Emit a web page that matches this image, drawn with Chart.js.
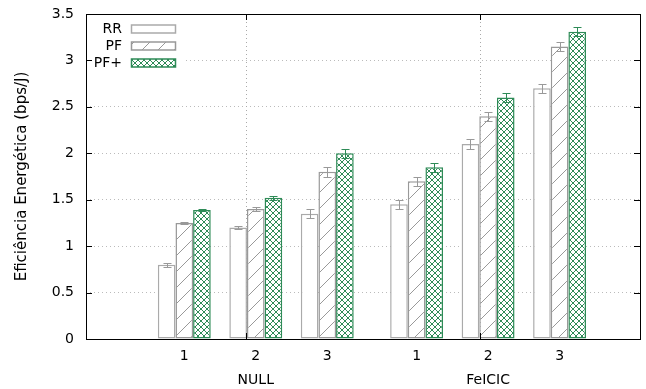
<!DOCTYPE html>
<html>
<head>
<meta charset="utf-8">
<script src="https://cdn.jsdelivr.net/npm/chart.js@4/dist/chart.umd.min.js"></script>
<style>
  html, body { margin: 0; background: #fff; }
</style>
</head>
<body>
<canvas id="chart" width="646" height="389"></canvas>
<script>
// data
const positions = [0, 1, 2, 3.25, 4.25, 5.25];
const tickLabels = ["1", "2", "3", "1", "2", "3"];
const groupLabels = ["", "NULL", "", "", "FeICIC", ""];
const seriesNames = ["RR", "PF", "PF+"];
const rrValues = [0.80, 1.20, 1.35, 1.45, 2.10, 2.70];
const pfValues = [1.25, 1.40, 1.80, 1.70, 2.40, 3.15];
const pfPlusValues = [1.39, 1.52, 2.00, 1.85, 2.60, 3.31];
const rrErrors = [0.02, 0.02, 0.05, 0.05, 0.05, 0.05];
const pfErrors = [0.015, 0.02, 0.05, 0.05, 0.05, 0.05];
const pfPlusErrors = [0.015, 0.02, 0.05, 0.05, 0.05, 0.05];

const GREEN = "#2e8b57";
const FONT = "'DejaVu Sans', sans-serif";

function hatchPattern(color) {
  const c = document.createElement("canvas");
  c.width = 16; c.height = 16;
  const g = c.getContext("2d");
  g.fillStyle = "#fff";
  g.fillRect(0, 0, 16, 16);
  g.strokeStyle = color;
  g.lineWidth = 1;
  g.beginPath();
  g.moveTo(-1, 17); g.lineTo(17, -1);
  g.stroke();
  return g.createPattern(c, "repeat");
}

function crossPattern(color) {
  const c = document.createElement("canvas");
  c.width = 6; c.height = 6;
  const g = c.getContext("2d");
  g.fillStyle = "#fff";
  g.fillRect(0, 0, 6, 6);
  g.strokeStyle = color;
  g.lineWidth = 1;
  g.beginPath();
  g.moveTo(0, 0); g.lineTo(6, 6);
  g.moveTo(6, 0); g.lineTo(0, 6);
  g.stroke();
  return g.createPattern(c, "repeat");
}

function points(values) {
  return values.map((v, i) => ({ x: positions[i], y: v }));
}

const datasets = [
  { label: seriesNames[0], data: points(rrValues), errors: rrErrors,
    backgroundColor: "#fff", borderColor: "#aaaaaa", errColor: "#999" },
  { label: seriesNames[1], data: points(pfValues), errors: pfErrors,
    backgroundColor: hatchPattern("#999"), borderColor: "#999999", errColor: "#999" },
  { label: seriesNames[2], data: points(pfPlusValues), errors: pfPlusErrors,
    backgroundColor: crossPattern(GREEN), borderColor: GREEN, errColor: GREEN },
].map(d => Object.assign(d, {
  borderWidth: 1.5,
  borderSkipped: false,
  categoryPercentage: 0.74,
  barPercentage: 1.0,
}));

// error bars, frame, inward ticks and in-plot legend
const decorations = {
  id: "decorations",
  afterDatasetsDraw(chart) {
    const ctx = chart.ctx;
    const y = chart.scales.y;
    const x = chart.scales.x;
    const area = chart.chartArea;
    ctx.save();

    chart.data.datasets.forEach((ds, i) => {
      const meta = chart.getDatasetMeta(i);
      ctx.strokeStyle = ds.errColor;
      ctx.lineWidth = 1;
      meta.data.forEach((bar, j) => {
        const v = ds.data[j].y, e = ds.errors[j];
        const top = Math.round(y.getPixelForValue(v + e)) + 0.5;
        const bot = Math.round(y.getPixelForValue(v - e)) + 0.5;
        const cx = Math.round(bar.x) + 0.5;
        ctx.beginPath();
        ctx.moveTo(cx, top); ctx.lineTo(cx, bot);
        ctx.moveTo(cx - 4, top); ctx.lineTo(cx + 4, top);
        ctx.moveTo(cx - 4, bot); ctx.lineTo(cx + 4, bot);
        ctx.stroke();
      });
    });

    // vertical grid lines
    ctx.strokeStyle = "#aaa";
    ctx.setLineDash([1, 3]);
    [0.87, 4.13].forEach(v => {
      const px = Math.round(x.getPixelForValue(v)) + 0.5;
      ctx.beginPath();
      ctx.moveTo(px, area.top); ctx.lineTo(px, area.bottom);
      ctx.stroke();
    });
    ctx.setLineDash([]);

    // legend
    ctx.fillStyle = "#fff";
    ctx.fillRect(area.left + 2, area.top + 6, 96, 56);
    ctx.font = "14px " + FONT;
    ctx.textAlign = "right";
    ctx.textBaseline = "middle";
    chart.data.datasets.forEach((ds, i) => {
      const cy = area.top + 15 + i * 17;
      ctx.fillStyle = "#000";
      ctx.fillText(ds.label, area.left + 36, cy);
      ctx.fillStyle = ds.backgroundColor;
      ctx.fillRect(area.left + 45, cy - 4, 45, 8);
      ctx.strokeStyle = ds.borderColor;
      ctx.lineWidth = 1.5;
      ctx.strokeRect(area.left + 45.5, cy - 4, 44, 8);
    });

    // frame and tick marks
    ctx.strokeStyle = "#000";
    ctx.lineWidth = 1;
    ctx.strokeRect(Math.round(area.left) + 0.5, Math.round(area.top) + 0.5,
      Math.round(area.right - area.left), Math.round(area.bottom - area.top));
    y.ticks.forEach(t => {
      const py = Math.round(y.getPixelForValue(t.value)) + 0.5;
      ctx.beginPath();
      ctx.moveTo(area.left, py); ctx.lineTo(area.left + 6, py);
      ctx.moveTo(area.right, py); ctx.lineTo(area.right - 6, py);
      ctx.stroke();
    });
    [0.87, 4.13].forEach(v => {
      const px = Math.round(x.getPixelForValue(v)) + 0.5;
      ctx.beginPath();
      ctx.moveTo(px, area.top); ctx.lineTo(px, area.top + 6);
      ctx.moveTo(px, area.bottom); ctx.lineTo(px, area.bottom - 6);
      ctx.stroke();
    });
    ctx.restore();
  }
};

new Chart(document.getElementById("chart").getContext("2d"), {
  type: "bar",
  data: { datasets: datasets },
  plugins: [decorations],
  options: {
    responsive: false,
    animation: false,
    devicePixelRatio: 1,
    layout: { padding: { top: 14, right: 6, left: 0, bottom: 0 } },
    plugins: { legend: { display: false }, tooltip: { enabled: false } },
    scales: {
      x: {
        type: "linear",
        offset: false,
        min: -1.375,
        max: 6.375,
        afterBuildTicks: (scale) => {
          scale.ticks = positions.map(v => ({ value: v }));
        },
        afterFit: (scale) => { scale.height = 50; },
        grid: { display: false, drawTicks: false, offset: false },
        border: { display: false },
        ticks: {
          autoSkip: false,
          maxRotation: 0,
          padding: 6,
          color: "#000",
          font: { family: FONT, size: 14, lineHeight: "23.5px" },
          callback: (value, index) => [tickLabels[index], groupLabels[index]],
        },
      },
      y: {
        min: 0,
        max: 3.5,
        afterFit: (scale) => {
          scale.width = 86;
          scale.paddingTop = 8;
          scale.paddingBottom = 8;
        },
        grid: { color: "#bbb", drawTicks: false },
        border: { display: false, dash: [1, 3] },
        ticks: {
          stepSize: 0.5,
          padding: 12,
          color: "#000",
          font: { family: FONT, size: 14 },
          callback: (v) => String(v),
        },
        title: {
          display: true,
          text: "Eficiência Energética (bps/J)",
          color: "#000",
          padding: { top: 13, bottom: 0 },
          font: { family: FONT, size: 15 },
        },
      },
    },
  },
});
</script>
</body>
</html>
